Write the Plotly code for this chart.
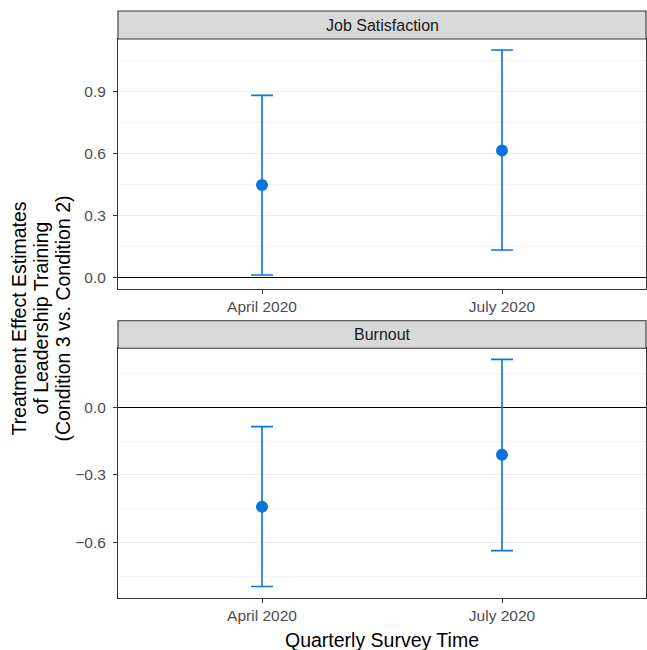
import plotly.graph_objects as go

# ---- data ----
times = ["April 2020", "July 2020"]
outcomes = ["Job Satisfaction", "Burnout"]

est_js = [0.447, 0.614]
lo_js = [0.011, 0.132]
hi_js = [0.880, 1.100]

est_bo = [-0.441, -0.211]
lo_bo = [-0.794, -0.635]
hi_bo = [-0.086, 0.212]

yticks_js = [0.0, 0.3, 0.6, 0.9]
yticks_bo = [-0.6, -0.3, 0.0]

# ---- style ----
COL = "#0A74DA"
FONT = "Liberation Sans, Arial, sans-serif"
W, H = 647, 650
ML, MR, MT, MB = 118, 1, 39, 52
PH = H - MT - MB             # plot area height in px
PW = W - ML - MR


def py(px):
    """reference pixel row -> paper y"""
    return (H - MB - px) / PH


def px_(x):
    """reference pixel column -> paper x"""
    return (x - ML) / PW


def fmt(v):
    s = f"{abs(v):.1f}"
    return ("\u2212" + s) if v < 0 else s


fig = go.Figure()

for est, lo, hi, xa, ya in [(est_js, lo_js, hi_js, "x", "y"),
                            (est_bo, lo_bo, hi_bo, "x2", "y2")]:
    fig.add_trace(go.Scatter(
        x=times, y=est, xaxis=xa, yaxis=ya, mode="markers",
        marker=dict(color=COL, size=12),
        error_y=dict(type="data", symmetric=False,
                     array=[h - e for h, e in zip(hi, est)],
                     arrayminus=[e - l for e, l in zip(est, lo)],
                     color=COL, thickness=1.6, width=11),
        showlegend=False, hoverinfo="skip"))

TICKFONT = dict(family=FONT, size=15.5, color="#4D4D4D")
axis_common = dict(showline=True, mirror=True, linecolor="#333333", linewidth=1.1,
                   ticks="outside", ticklen=4, tickcolor="#333333", tickwidth=1,
                   tickfont=TICKFONT)

xcommon = dict(axis_common, type="category", range=[-0.6, 1.6], showgrid=False,
               zeroline=False, ticklabelstandoff=-1)
ycommon = dict(axis_common, showgrid=True, gridcolor="#EBEBEB", gridwidth=1,
               zeroline=True, zerolinecolor="black", zerolinewidth=1.1,
               ticklabelstandoff=4)
fig.update_layout(
    xaxis=dict(xcommon, domain=[0, 1], anchor="y"),
    xaxis2=dict(xcommon, domain=[0, 1], anchor="y2"),
    yaxis=dict(ycommon, domain=[py(289), 1], anchor="x",
               range=[-0.0566, 1.153],
               tickvals=yticks_js, ticktext=[fmt(v) for v in yticks_js],
               minor=dict(tickvals=[0.15, 0.45, 0.75, 1.05], showgrid=True,
                          gridcolor="#F3F3F3", gridwidth=0.8, ticks="")),
    yaxis2=dict(ycommon, domain=[0, py(348.3)], anchor="x2",
                range=[-0.845, 0.261],
                tickvals=yticks_bo, ticktext=[fmt(v) for v in yticks_bo],
                minor=dict(tickvals=[-0.75, -0.45, -0.15, 0.15], showgrid=True,
                           gridcolor="#F3F3F3", gridwidth=0.8, ticks="")),
    width=W, height=H,
    margin=dict(l=ML, r=MR, t=MT, b=MB),
    paper_bgcolor="white", plot_bgcolor="white",
    font=dict(family=FONT),
)

# strips
strips = [(outcomes[0], py(39), py(11)), (outcomes[1], py(348.3), py(320.7))]
for label, y0, y1 in strips:
    fig.add_shape(type="rect", xref="paper", yref="paper", x0=0, x1=1, y0=y0, y1=y1,
                  fillcolor="#D9D9D9", line=dict(color="#333333", width=1.1), layer="above")
    fig.add_annotation(text=label, xref="paper", yref="paper", x=0.5, y=(y0 + y1) / 2,
                       xanchor="center", yanchor="middle", showarrow=False,
                       font=dict(family=FONT, size=16, color="#1A1A1A"))

# axis titles
TITLEFONT = dict(family=FONT, size=19.5, color="black")
fig.add_annotation(text="Quarterly Survey Time", xref="paper", yref="paper",
                   x=0.5, y=py(640), xanchor="center", yanchor="middle", showarrow=False,
                   font=TITLEFONT)
ytitle_lines = ["Treatment Effect Estimates", "of Leadership Training",
                "(Condition 3 vs. Condition 2)"]
for line, xc in zip(ytitle_lines, [18, 40, 62]):
    fig.add_annotation(text=line, xref="paper", yref="paper", x=px_(xc), y=py(318.5),
                       xanchor="center", yanchor="middle", textangle=-90, showarrow=False,
                       font=TITLEFONT)

fig.write_html("out.html",
               config={"displayModeBar": False},
               post_script="document.body.style.margin='0px';"
                           "document.body.style.overflow='hidden';")
